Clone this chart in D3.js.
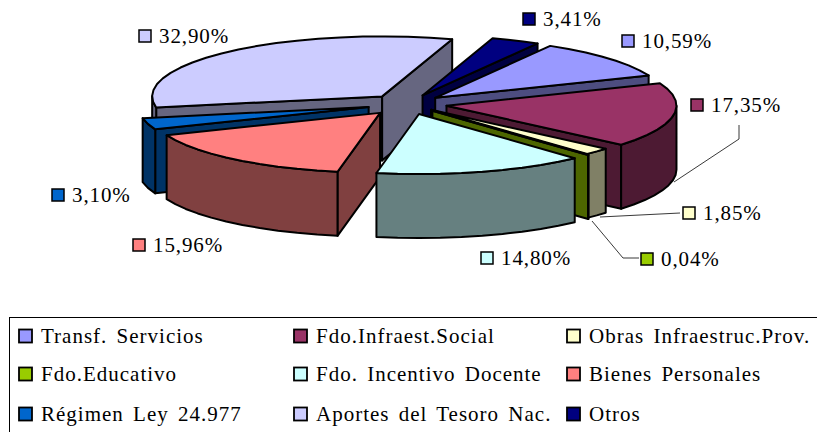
<!DOCTYPE html>
<html lang="es">
<head>
<meta charset="UTF-8">
<title>Recursos</title>
<style>
    html, body { margin: 0; padding: 0; background: #fff; }
    svg { display: block; }
    text { font-family: "Liberation Serif", serif; font-size: 21px; fill: #000; }
    .value { letter-spacing: 0.9px; }
    .legend { letter-spacing: 1px; word-spacing: 3px; }
</style>
</head>
<body>
<div id="chart"></div>
<script src="https://d3js.org/d3.v7.min.js"></script>
<script>
const names = ["Transf. Servicios", "Fdo.Infraest.Social", "Obras Infraestruc.Prov.", "Fdo.Educativo", "Fdo. Incentivo Docente", "Bienes Personales", "Régimen Ley 24.977", "Aportes del Tesoro Nac.", "Otros"];
const values = [10.59, 17.35, 1.85, 0.04, 14.80, 15.96, 3.10, 32.90, 3.41];
const labels = ["10,59%", "17,35%", "1,85%", "0,04%", "14,80%", "15,96%", "3,10%", "32,90%", "3,41%"];
const colors = ["#9999FF", "#993366", "#FFFFCC", "#99CC00", "#CCFFFF", "#FF8080", "#0066CC", "#CCCCFF", "#000080"];
// how far each slice is pulled out of the pie
const explode = [36, 39, 32, 36, 40, 44, 41, 39, 36];
// back to front
const drawOrder = [7, 8, 0, 1, 6, 2, 3, 5, 4];
// where the value labels sit (top left of the swatch)
const labelPos = [[622, 35], [691, 99], [683, 207], [641, 253], [481, 252], [133, 239], [52, 189], [139, 30], [523, 13]];

const width = 817, height = 432;
const cx = 408, cy = 104, rx = 230, ry = 60, depth = 64;

const svg = d3.select("#chart").append("svg").attr("width", width).attr("height", height);

const pie = d3.pie().value(d => d).sort(null).startAngle(30 * Math.PI / 180).endAngle(390 * Math.PI / 180);
const arcs = pie(values);

const line = d3.line();
const pt = (a, o) => [o[0] + rx * Math.sin(a), o[1] - ry * Math.cos(a)];
const dark = c => { const r = d3.rgb(c); return d3.rgb(r.r / 2, r.g / 2, r.b / 2).formatHex(); };
const down = p => [p[0], p[1] + depth];

function rimPoints(a0, a1, o) {
    const n = Math.max(1, Math.ceil(Math.abs(a1 - a0) / 0.1));
    return d3.range(n + 1).map(i => pt(a0 + (a1 - a0) * i / n, o));
}

function facet(g, d, fill) {
    g.append("path").attr("d", d).attr("fill", fill)
        .attr("stroke", "#000").attr("stroke-width", 2).attr("stroke-linejoin", "round");
}

drawOrder.forEach(i => {
    const d = arcs[i];
    const mid = (d.startAngle + d.endAngle) / 2;
    const o = [cx + explode[i] * Math.sin(mid), cy - explode[i] * (ry / rx) * Math.cos(mid)];
    const g = svg.append("g");
    const fill = colors[i], side = dark(fill);
    const wall = a => {
        const p = pt(a, o);
        facet(g, line([o, p, down(p), down(o)]) + "Z", side);
    };
    // radial walls only show when they face the viewer
    if (Math.sin(d.startAngle) < 0) wall(d.startAngle);
    if (Math.sin(d.endAngle) > 0) wall(d.endAngle);
    // outer rim, lower half of the ellipse only
    const lo = Math.max(d.startAngle, Math.PI / 2), hi = Math.min(d.endAngle, 3 * Math.PI / 2);
    if (hi > lo) {
        const rim = rimPoints(lo, hi, o);
        facet(g, line(rim.concat(rim.map(down).reverse())) + "Z", side);
    }
    // top face
    facet(g, line([o].concat(rimPoints(d.startAngle, d.endAngle, o))) + "Z", fill);
});

// leader lines
const leaders = [
    [[674, 182], [739, 139], [739, 125]],
    [[600, 217], [680, 213]],
    [[592, 221], [623, 258], [639, 258]]
];
leaders.forEach(l => svg.append("path").attr("d", line(l)).attr("fill", "none").attr("stroke", "#222").attr("stroke-width", 0.9));

// value labels
labelPos.forEach((p, i) => {
    svg.append("rect").attr("x", p[0]).attr("y", p[1]).attr("width", 12).attr("height", 12)
        .attr("fill", colors[i]).attr("stroke", "#000").attr("stroke-width", 1.5);
    svg.append("text").attr("class", "value").attr("x", p[0] + 20).attr("y", p[1] + 13).text(labels[i]);
});

// legend box
svg.append("rect").attr("x", 9.5).attr("y", 317.5).attr("width", 830).attr("height", 130)
    .attr("fill", "#fff").attr("stroke", "#000");
const legendX = d3.scaleOrdinal().domain([0, 1, 2]).range([19, 294, 567]);
const legendY = d3.scaleOrdinal().domain([0, 1, 2]).range([336, 374, 414]);
names.forEach((n, i) => {
    const c = i % 3, r = Math.floor(i / 3);
    svg.append("rect").attr("x", legendX(c)).attr("y", legendY(r) - 6.5).attr("width", 13).attr("height", 13)
        .attr("fill", colors[i]).attr("stroke", "#000").attr("stroke-width", 1.8);
    svg.append("text").attr("class", "legend").attr("x", legendX(c) + 22).attr("y", legendY(r) + 7).text(n);
});
</script>
</body>
</html>
